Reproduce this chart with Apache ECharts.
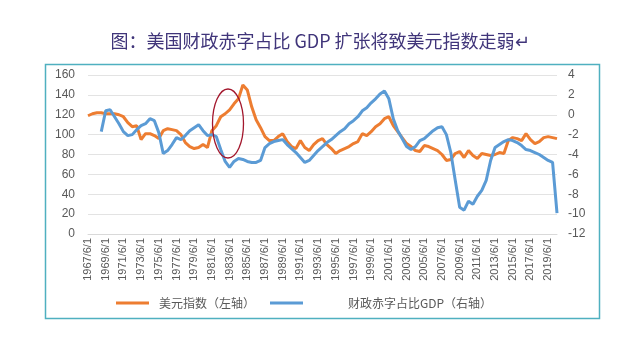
<!DOCTYPE html>
<html>
<head>
<meta charset="utf-8">
<script src="https://cdn.jsdelivr.net/npm/echarts@6/dist/echarts.min.js"></script>
<style>
html,body{margin:0;padding:0;background:#fff;}
#chart{width:640px;height:339px;}
</style>
</head>
<body>
<div id="chart"></div>
<script>
// Semi-annual dates 1967/6/1 ... 2020/6/1
var categories = [];
for (var y = 1967; y <= 2020; y++) {
  categories.push(y + '/6/1');
  if (y < 2020) categories.push(y + '/12/1');
}

// 美元指数（左轴）
var dollarIndex = [
  119,121,122,122,121,121,121,120,118,112,
  108,109,95,101,101,99,96,104,106,105,
  104,100,92,88,86,87,90,87,104,109,
  118,121,125,131,136,150,145,128,115,107,
  98,94,94,98,101,93,88,86,94,87,
  84,90,94,96,90,86,81,84,86,88,
  91,93,101,99,103,108,111,116,118,109,
  103,97,91,88,84,83,89,88,86,84,
  80,74,75,81,83,77,84,79,76,81,
  80,79,80,82,81,94,97,96,94,101,
  95,91,93,97,98,97,96
];

// 财政赤字占比GDP（右轴）
var deficitGDP = [
  null,null,null,-1.7,0.4,0.5,-0.2,-0.9,-1.7,-2.1,
  -2.0,-1.5,-1.1,-0.9,-0.4,-0.6,-1.8,-3.9,-3.6,-3.0,
  -2.3,-2.5,-2.1,-1.6,-1.3,-1.0,-1.6,-2.1,-2.0,-2.2,
  -3.5,-4.7,-5.3,-4.7,-4.4,-4.5,-4.7,-4.8,-4.8,-4.6,
  -3.3,-2.9,-2.7,-2.6,-2.5,-3.0,-3.4,-3.8,-4.3,-4.8,
  -4.6,-4.1,-3.6,-3.2,-2.8,-2.5,-2.1,-1.7,-1.4,-0.9,
  -0.6,-0.2,0.4,0.7,1.2,1.6,2.1,2.4,1.6,-0.4,
  -1.6,-2.4,-3.2,-3.5,-3.2,-2.6,-2.4,-2.0,-1.6,-1.3,
  -1.2,-2.0,-3.8,-6.6,-9.3,-9.6,-8.7,-9.0,-8.2,-7.6,
  -6.6,-4.6,-3.3,-3.0,-2.7,-2.5,-2.6,-2.8,-3.1,-3.5,
  -3.6,-3.8,-4.0,-4.3,-4.6,-4.8,-9.9
];

var leftTicks = {min: 0, max: 160, interval: 20};
var rightTicks = {min: -12, max: 4, interval: 2};

var seriesNames = ['美元指数（左轴）', '财政赤字占比GDP（右轴）'];
var titleText = '图：美国财政赤字占比 GDP 扩张将致美元指数走弱↵';

var chart = echarts.init(document.getElementById('chart'), null, {renderer: 'canvas'});
var labelColor = '#595959';
var option = {
  backgroundColor: '#ffffff',
  animation: false,
  title: {
    text: titleText,
    left: 'center',
    top: 27,
    textStyle: {
      fontFamily: 'Noto Sans CJK SC',
      fontSize: 18,
      fontWeight: 'normal',
      color: '#40357a'
    }
  },
  legend: [
    {
      data: [seriesNames[0]],
      left: 111,
      top: 292,
      icon: 'rect',
      itemWidth: 33,
      itemHeight: 3,
      textStyle: {color: labelColor, fontSize: 12, fontFamily: 'Noto Sans CJK SC', padding: [0, 0, 0, 5]}
    },
    {
      data: [seriesNames[1]],
      left: 265,
      top: 292,
      icon: 'rect',
      itemWidth: 33,
      itemHeight: 3,
      textStyle: {color: labelColor, fontSize: 12, fontFamily: 'Noto Sans CJK SC', padding: [0, 0, 0, 40]}
    }
  ],
  grid: {left: 88, right: 83, top: 75, bottom: 105},
  xAxis: {
    type: 'category',
    data: categories,
    boundaryGap: false,
    axisLine: {lineStyle: {color: '#d9d9d9'}},
    axisTick: {show: false},
    axisLabel: {
      interval: 3,
      rotate: 90,
      margin: 4,
      color: labelColor,
      fontSize: 11,
      fontFamily: 'Liberation Sans'
    },
    splitLine: {show: false}
  },
  yAxis: [
    {
      type: 'value',
      min: leftTicks.min, max: leftTicks.max, interval: leftTicks.interval,
      axisLine: {show: false},
      axisTick: {show: false},
      axisLabel: {color: labelColor, fontSize: 12, margin: 13, fontFamily: 'Liberation Sans'},
      splitLine: {lineStyle: {color: '#e3e3e3', width: 1}}
    },
    {
      type: 'value',
      min: rightTicks.min, max: rightTicks.max, interval: rightTicks.interval,
      axisLine: {show: false},
      axisTick: {show: false},
      axisLabel: {color: labelColor, fontSize: 12, margin: 11, fontFamily: 'Liberation Sans'},
      splitLine: {show: false}
    }
  ],
  series: [
    {
      name: seriesNames[0],
      type: 'line',
      yAxisIndex: 0,
      data: dollarIndex,
      showSymbol: false,
      symbol: 'none',
      lineStyle: {color: '#ED7D31', width: 3},
      itemStyle: {color: '#ED7D31'},
      z: 2
    },
    {
      name: seriesNames[1],
      type: 'line',
      yAxisIndex: 1,
      data: deficitGDP,
      showSymbol: false,
      symbol: 'none',
      lineStyle: {color: '#5B9BD5', width: 3},
      itemStyle: {color: '#5B9BD5'},
      z: 3
    }
  ],
  graphic: [
    {
      type: 'rect',
      left: 43, top: 62,
      shape: {width: 554, height: 254},
      style: {fill: 'none', stroke: '#4fb0c0', lineWidth: 1.5},
      silent: true, z: 0
    },
    {
      type: 'ellipse',
      shape: {cx: 228, cy: 123.5, rx: 15.5, ry: 34.5},
      style: {fill: 'none', stroke: '#a3172d', lineWidth: 1.3},
      silent: true, z: 10
    }
  ]
};
chart.setOption(option);
</script>
</body>
</html>
